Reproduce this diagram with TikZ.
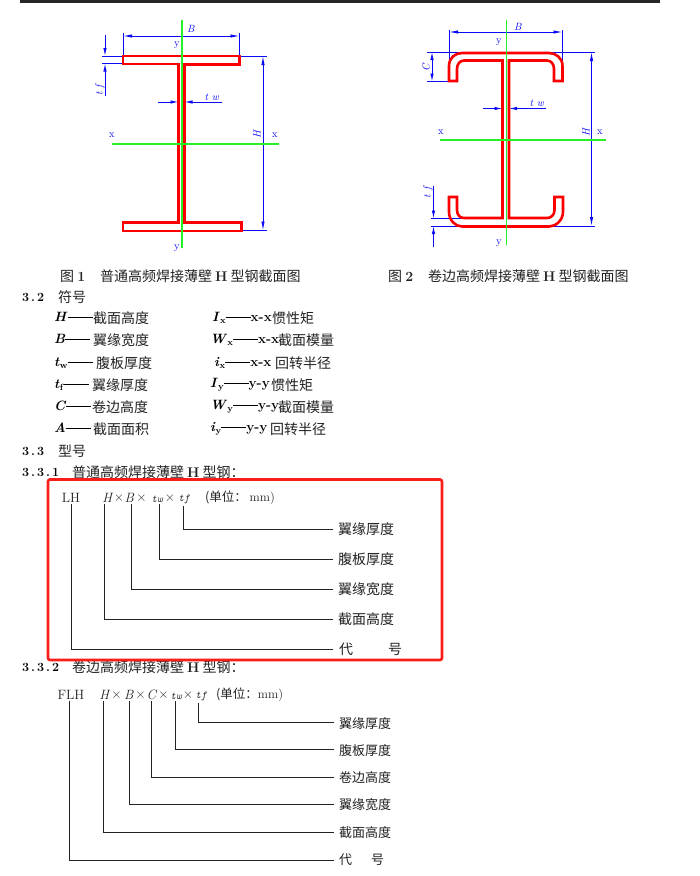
\documentclass[tikz,border=0pt]{standalone}
\usepackage{fontspec}
\usetikzlibrary{arrows.meta}
\newfontfamily\cjk{Noto Sans CJK SC}
\definecolor{dimblue}{RGB}{10,10,245}
\definecolor{steelred}{RGB}{250,0,0}
\definecolor{axisgreen}{RGB}{40,240,40}
\definecolor{frame}{RGB}{250,30,25}
\definecolor{ink}{RGB}{35,35,35}
\newcommand{\sym}[2]{\textbf{\textit{#1}}\raisebox{-2.5pt}{\fontsize{9}{9}\selectfont\textbf{#2}}}
\newcommand{\dash}{\rule[3.5pt]{25pt}{0.7pt}}
\newcommand{\hh}{\hspace{3pt}{\rmfamily\bfseries H}\hspace{3pt}}
\newcommand{\pd}{\kern2pt.\kern2pt}
\tikzset{
  every node/.style={inner sep=0pt,text=ink},
  txt/.style={anchor=west,text=black,font=\fontsize{13.5}{15}\selectfont},
  cn/.style={anchor=west,font=\fontsize{14}{16}\selectfont\cjk},
  small cn/.style={anchor=west,font=\fontsize{13}{15}\selectfont\cjk},
  head/.style={anchor=west,text=black,font=\fontsize{12.5}{14}\selectfont\bfseries},
  steel/.style={draw=steelred,line width=2.6pt,line join=miter},
  axis/.style={draw=axisgreen,line width=2pt},
  axis thin/.style={draw=axisgreen,line width=1.8pt},
  dim/.style={draw=dimblue,line width=0.85pt},
  arr/.style={dim,-{Latex[length=8pt,width=3.4pt]}},
  darr/.style={dim,{Latex[length=9pt,width=3.4pt]}-{Latex[length=9pt,width=3.4pt]}},
  dimtxt/.style={text=dimblue,font=\fontsize{10.5}{11}\selectfont},
  code/.style={text=ink,font=\fontsize{10.5}{11}\selectfont\ttfamily\itshape},
  lead/.style={draw=ink,line width=0.9pt},
  token/.style={font=\fontsize{13.5}{15}\selectfont},
}
\begin{document}
\begin{tikzpicture}[x=1pt,y=-1pt]
\useasboundingbox (0,0) rectangle (700,876);
\fill[white] (0,0) rectangle (700,876);
\fill[black!85] (20,0) rectangle (660,2.5);

% ---------- Figure 1 ----------
\draw[dim] (123,33) -- (123,55);
\draw[dim] (239.5,33) -- (239.5,55);
\draw[darr] (123,36) -- (239.5,36);
\draw[dim] (102,56) -- (123,56);
\draw[dim] (102,63.5) -- (123,63.5);
\draw[arr] (105,35) -- (105,56);
\draw[arr] (105,96) -- (105,63.5);
\draw[arr] (158,102) -- (178.5,102);
\draw[arr] (222,102) -- (184.5,102);
\draw[dim] (240,56) -- (267,56);
\draw[dim] (241.5,230.5) -- (267,230.5);
\draw[darr] (263,56) -- (263,230.5);
\draw[steel] (123,56) -- (239.5,56) -- (239.5,64.5) -- (184.5,64.5) -- (184.5,222.5) -- (241.5,222.5) -- (241.5,231) -- (123,231) -- (123,222.5) -- (178.5,222.5) -- (178.5,64) -- (123,64) -- cycle;
\draw[axis] (181.5,20) -- (181.5,248);
\draw[axis] (112,143.5) -- (279,143.5);
\node[dimtxt] (b1) at (191,29) {\textit{B}};
\node[dimtxt] (yt1) at (177,45) {y};
\node[dimtxt] (yb1) at (177,248) {y};
\node[dimtxt] (xl1) at (112,135) {x};
\node[dimtxt] (xr1) at (275,135) {x};
\node[dimtxt,rotate=90] (tf1) at (100,90) {\textit{t f}};
\node[dimtxt] (tw1) at (212,97) {\textit{t w}};
\node[dimtxt,rotate=90] (h1) at (257,134) {\textit{H}};

% ---------- Figure 2 ----------
\draw[dim] (449,30) -- (449,70);
\draw[dim] (562.5,30) -- (562.5,67);
\draw[darr] (449,32) -- (562.5,32);
\draw[dim] (427,52) -- (595,52);
\draw[dim] (427,81.5) -- (449,81.5);
\draw[arr,{Latex[length=8pt,width=3.4pt]}-{Latex[length=8pt,width=3.4pt]}] (432,52) -- (432,81.5);
\draw[dim] (431,218.5) -- (463,218.5);
\draw[dim] (431,226) -- (595,226);
\draw[arr] (433.5,186) -- (433.5,218.5);
\draw[arr] (433.5,247) -- (433.5,226);
\draw[arr] (483,108.5) -- (502.5,108.5);
\draw[arr] (546,108.5) -- (509,108.5);
\draw[darr] (591.5,52) -- (591.5,226);
\draw[steel] (449,81) -- (449,66) .. controls (449,58) and (455,53) .. (462,53) -- (549,53) .. controls (556,53) and (562.5,58) .. (562.5,66) -- (562.5,81) -- (554,81) -- (554,69) .. controls (554,64) and (551,60.5) .. (547,60.5) -- (509,60.5) -- (509,218) -- (547,218) .. controls (551,218) and (554.5,215) .. (554.5,210) -- (554.5,197) -- (563,197) -- (563,212) .. controls (563,220) and (556,226.5) .. (549,226.5) -- (462,226.5) .. controls (455,226.5) and (449,220) .. (449,212) -- (449,197) -- (457,197) -- (457,210) .. controls (457,215) and (460,218) .. (464,218) -- (502.5,218) -- (502.5,60.5) -- (464,60.5) .. controls (460,60.5) and (457,64) .. (457,69) -- (457,81) -- cycle;
\draw[axis thin] (506.5,20) -- (506.5,245);
\draw[axis thin] (440,140) -- (606,140);
\node[dimtxt] (b2) at (518,27) {\textit{B}};
\node[dimtxt] (yt2) at (499,42) {y};
\node[dimtxt] (yb2) at (499,243) {y};
\node[dimtxt] (xl2) at (441,132) {x};
\node[dimtxt] (xr2) at (600,132) {x};
\node[dimtxt,rotate=90] (c2) at (426,67) {\textit{C}};
\node[dimtxt,rotate=90] (tf2) at (428,192) {\textit{t f}};
\node[dimtxt] (tw2) at (537,103) {\textit{t w}};
\node[dimtxt,rotate=90] (h2) at (586,132) {\textit{H}};

% ---------- Captions ----------
\node[cn] (capa1) at (60,276) {图 \textbf{\rmfamily 1}};
\node[cn] (capa2) at (100,276) {普通高频焊接薄壁\hh 型钢截面图};
\node[cn] (capb1) at (388,276) {图 \textbf{\rmfamily 2}};
\node[cn] (capb2) at (428,276) {卷边高频焊接薄壁\hh 型钢截面图};

% ---------- Section 3.2 ----------
\node[head] (s32) at (22,297) {3\pd 2};
\node[cn] (s32t) at (58,297) {符号};

\node[txt] (sa) at (54,318) {\sym{H}{}\dash};
\node[cn]  (ta) at (93,318) {截面高度};
\node[txt] (sb) at (54,340) {\sym{B}{}\dash};
\node[cn]  (tb) at (93,340) {翼缘宽度};
\node[txt] (sc) at (54,363) {\sym{t}{w}\dash};
\node[cn]  (tc) at (96,363) {腹板厚度};
\node[txt] (sd) at (54,385) {\sym{t}{f}\dash};
\node[cn]  (td) at (92,385) {翼缘厚度};
\node[txt] (se) at (54,407) {\sym{C}{}\dash};
\node[cn]  (te) at (92,407) {卷边高度};
\node[txt] (sf) at (54,429) {\sym{A}{}\dash};
\node[cn]  (tg) at (93,429) {截面面积};

\node[txt] (ra) at (212,318) {\sym{I}{x}\dash\textbf{x-x}};
\node[cn]  (qa) at (272,318) {惯性矩};
\node[txt] (rb) at (210,340) {\sym{W}{x}\dash\textbf{x-x}};
\node[cn]  (qb) at (278,340) {截面模量};
\node[txt] (rc) at (214,363) {\sym{i}{x}\dash\textbf{x-x}};
\node[cn]  (qc) at (275,363) {回转半径};
\node[txt] (rd) at (210,385) {\sym{I}{y}\dash\textbf{y-y}};
\node[cn]  (qd) at (271,385) {惯性矩};
\node[txt] (re) at (210,407) {\sym{W}{y}\dash\textbf{y-y}};
\node[cn]  (qe) at (278,407) {截面模量};
\node[txt] (rf) at (210,429) {\sym{i}{y}\dash\textbf{y-y}};
\node[cn]  (qf) at (270,429) {回转半径};

\node[head] (s33) at (22,451) {3\pd 3};
\node[cn]   (s33t) at (58,451) {型号};
\node[head] (s331) at (22,472) {3\pd 3\pd 1};
\node[cn]   (s331t) at (72,472) {普通高频焊接薄壁\hh 型钢：};
\node[head] (s332) at (22,667) {3\pd 3\pd 2};
\node[cn]   (s332t) at (72,667) {卷边高频焊接薄壁\hh 型钢：};

% ---------- Designation 1 ----------
\draw[draw=frame,line width=2.6pt,rounded corners=2pt] (48,479.5) rectangle (442,660);
\node[token] (lh) at (71,498) {LH};
\node[token] (hh) at (108,498) {\textit{H}};
\node[token] (x1) at (119,498) {×};
\node[token] (bb) at (129.5,498) {\textit{B}};
\node[token] (x2) at (141.5,498) {×};
\node[code] (tw) at (157,499) {tw};
\node[token] (x3) at (170,498) {×};
\node[code] (tf) at (184,499) {tf};
\node[small cn,font=\fontsize{12.5}{14}\selectfont\cjk] (u1) at (205,498) {(单位： {\rmfamily mm)}};
\node[cn] (l1a) at (338,529.5) {翼缘厚度};
\node[cn] (l1b) at (338,559) {腹板厚度};
\node[cn] (l1c) at (338,589.5) {翼缘宽度};
\node[cn] (l1d) at (338,619.5) {截面高度};
\node[cn] (l1e) at (339,649.5) {代\hspace{35pt}号};
\draw[lead] ([xshift=-0.5pt]tf.south) ++(0,2) |- ([xshift=-5pt]l1a.west);
\draw[lead] ([xshift=2pt]tw.south) ++(0,2) |- ([xshift=-5pt]l1b.west);
\draw[lead] ([xshift=2pt]bb.south) ++(0,1) |- ([xshift=-5pt]l1c.west);
\draw[lead] ([xshift=-4pt]hh.south) ++(0,1) |- ([xshift=-5pt]l1d.west);
\draw[lead] ([xshift=0.5pt]lh.south) ++(0,1) |- ([xshift=-6pt]l1e.west);

% ---------- Designation 2 ----------
\node[token] (flh) at (71,695) {FLH};
\node[token] (hh2) at (105,695) {\textit{H}};
\node[token] (y1) at (116.5,695) {×};
\node[token] (bb2) at (129,695) {\textit{B}};
\node[token] (y2) at (140.5,695) {×};
\node[token] (cc2) at (152,695) {\textit{C}};
\node[token] (y3) at (163.5,695) {×};
\node[code] (tw2b) at (176,696) {tw};
\node[token] (y4) at (188,695) {×};
\node[code] (tf2b) at (201,696) {tf};
\node[small cn,font=\fontsize{12.5}{14}\selectfont\cjk] (u2) at (216,695) {(单位：{\rmfamily mm)}};
\node[small cn] (l2a) at (339,724) {翼缘厚度};
\node[small cn] (l2b) at (339,751) {腹板厚度};
\node[small cn] (l2c) at (339,777.5) {卷边高度};
\node[small cn] (l2d) at (339,804.5) {翼缘宽度};
\node[small cn] (l2e) at (339,832.5) {截面高度};
\node[small cn] (l2f) at (339,860) {代\hspace{19pt}号};
\draw[lead] ([xshift=-2.5pt]tf2b.south) ++(0,2) |- ([xshift=-5pt,yshift=2pt]l2a.west);
\draw[lead] ([xshift=-1pt]tw2b.south) ++(0,2) |- ([xshift=-5pt,yshift=1.5pt]l2b.west);
\draw[lead] ([xshift=-0.5pt]cc2.south) ++(0,1) |- ([xshift=-5pt]l2c.west);
\draw[lead] (bb2.south) ++(0,1) |- ([xshift=-5pt]l2d.west);
\draw[lead] ([xshift=-1.5pt]hh2.south) ++(0,1) |- ([xshift=-5pt]l2e.west);
\draw[lead] ([xshift=-1.5pt]flh.south) ++(0,1) |- ([xshift=-5pt]l2f.west);
\end{tikzpicture}
\end{document}
